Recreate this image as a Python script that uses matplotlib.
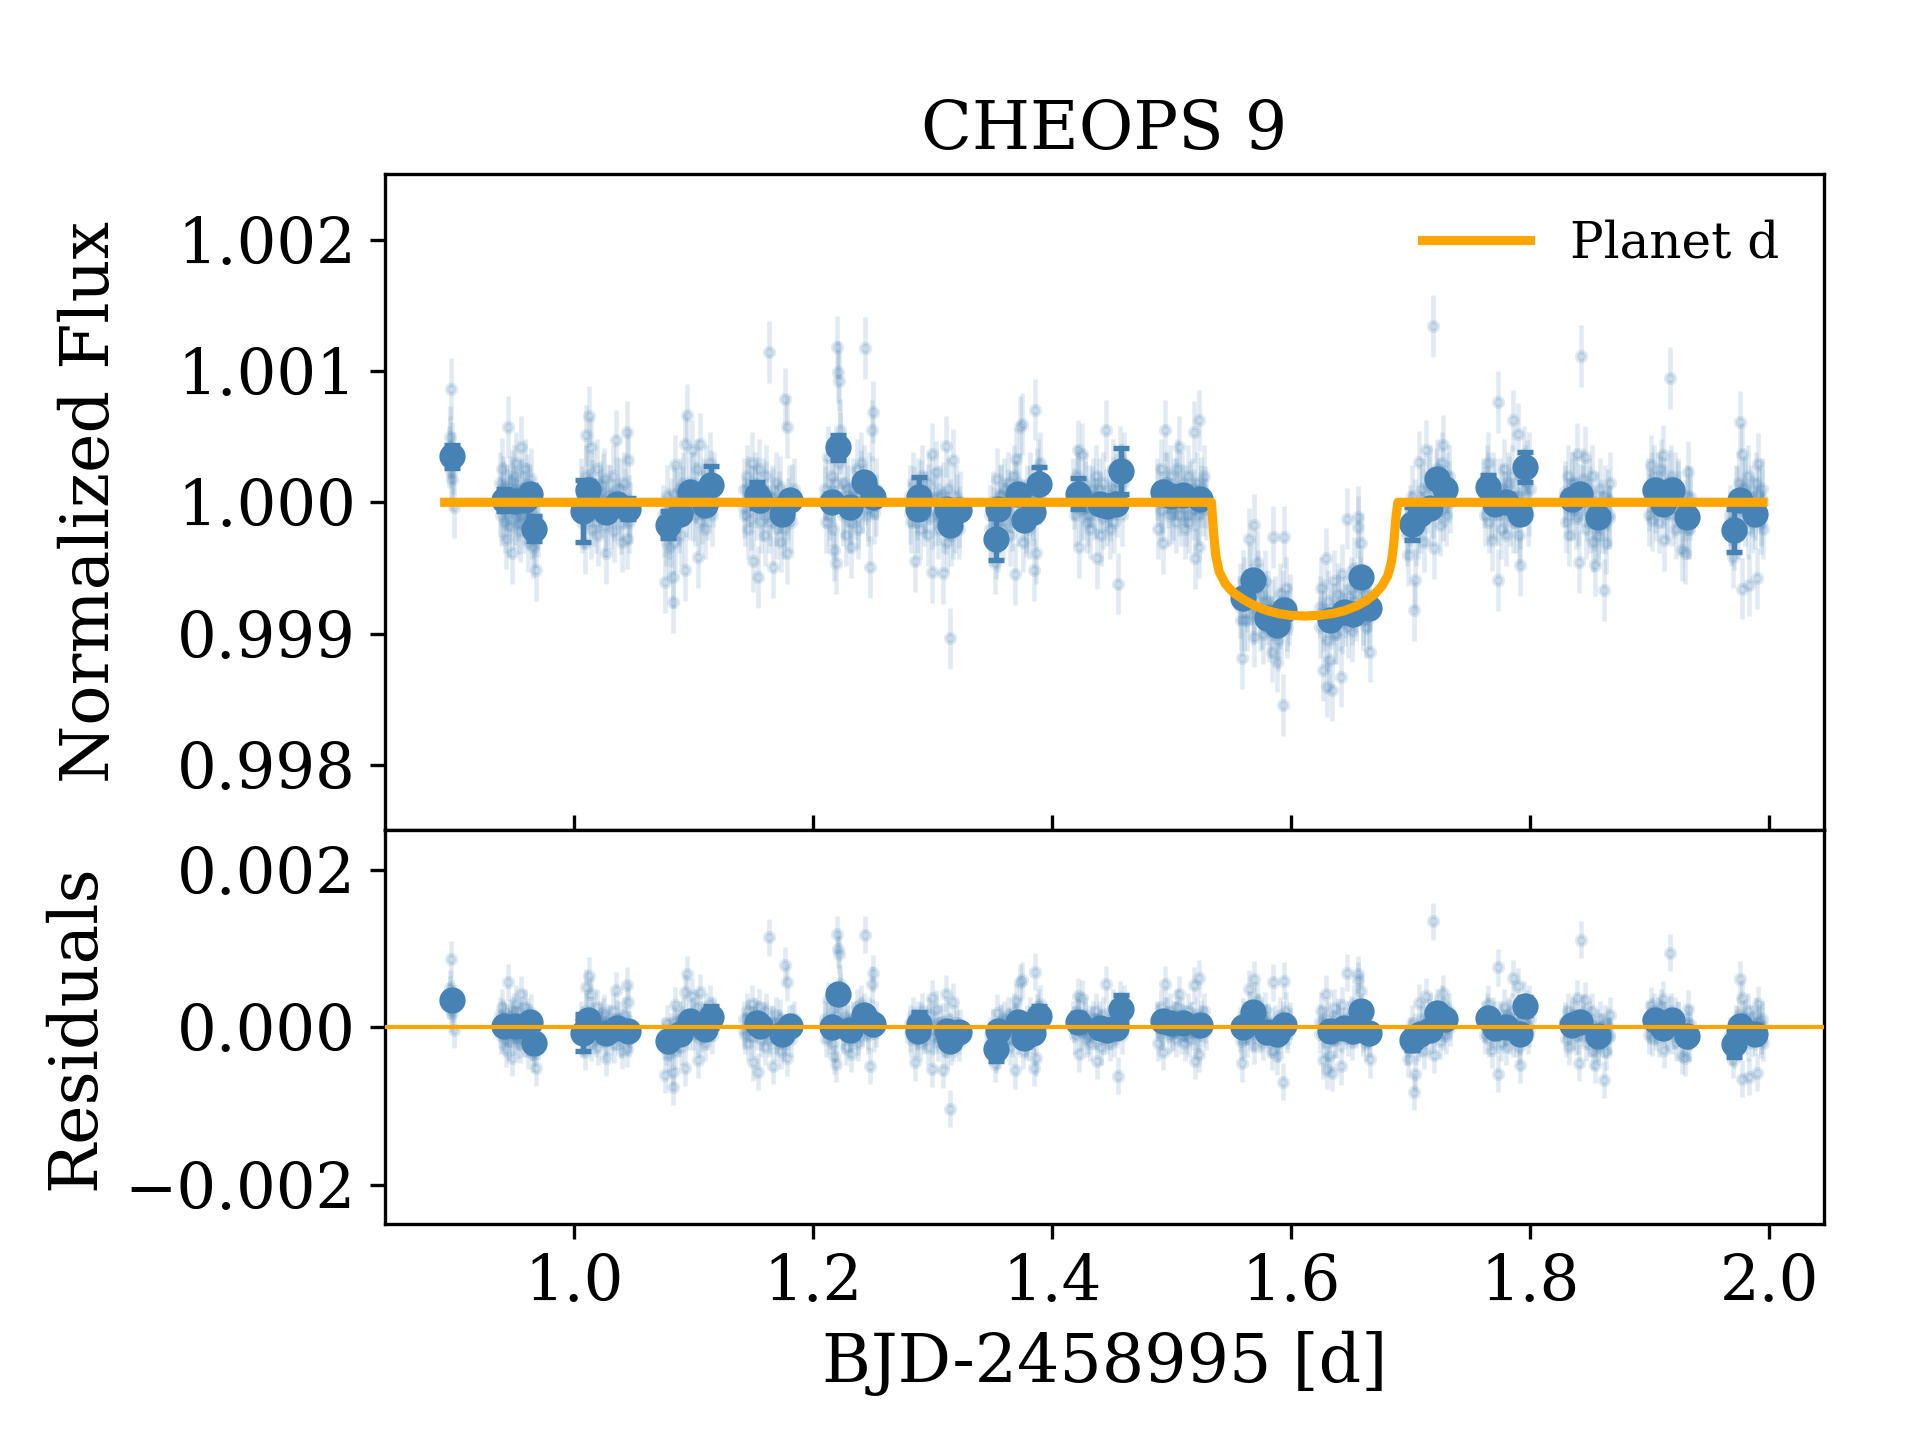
import numpy as np
import matplotlib
matplotlib.use("Agg")
from matplotlib import pyplot as plt

plt.rcParams['font.family'] = 'serif'
plt.rcParams['font.size'] = 14
plt.rcParams['xtick.labelsize'] = 15
plt.rcParams['ytick.labelsize'] = 15

# unbinned CHEOPS points: time [BJD-2458995] and flux offset [ppm]
faint_time = [
    0.8955, 0.8960, 0.8965, 0.8970, 0.8975, 0.8980, 0.8985, 0.8990, 0.9000,
    0.938, 0.939, 0.940, 0.941, 0.942, 0.943, 0.944, 0.945, 0.946, 0.947, 0.948, 0.949, 0.950,
    0.951, 0.952, 0.953, 0.954, 0.955, 0.956, 0.957, 0.958, 0.959, 0.960, 0.961, 0.962, 0.963,
    0.964, 0.965, 0.966, 0.967, 0.968, 0.969, 0.970,
    1.006, 1.007, 1.008, 1.009, 1.010, 1.0106, 1.012, 1.0126, 1.014, 1.0148, 1.016, 1.017,
    1.019, 1.020, 1.022, 1.023, 1.025, 1.026, 1.0273, 1.029, 1.031, 1.033, 1.034, 1.0357,
    1.037, 1.039, 1.040, 1.042, 1.0441, 1.0445, 1.0455, 1.046, 1.047,
    1.075, 1.0762, 1.077, 1.078, 1.0795, 1.080, 1.081, 1.0826, 1.083, 1.0845, 1.085, 1.086,
    1.088, 1.089, 1.090, 1.0915, 1.0929, 1.093, 1.0943, 1.096, 1.0985, 1.100, 1.101, 1.103,
    1.104, 1.1054, 1.107, 1.108, 1.110, 1.111, 1.113, 1.114, 1.116, 1.117,
    1.142, 1.143, 1.145, 1.146, 1.148, 1.1495, 1.1503, 1.152, 1.153, 1.1545, 1.155, 1.157,
    1.158, 1.160, 1.161, 1.163, 1.164, 1.166, 1.167, 1.169, 1.170, 1.172, 1.173, 1.175,
    1.177, 1.178, 1.1785, 1.180, 1.182, 1.184,
    1.210, 1.211, 1.213, 1.214, 1.216, 1.217, 1.218, 1.219, 1.2205, 1.221, 1.2215, 1.222,
    1.223, 1.225, 1.226, 1.228, 1.229, 1.231, 1.232, 1.234, 1.235, 1.237, 1.238, 1.240,
    1.241, 1.243, 1.244, 1.246, 1.247, 1.248, 1.2495, 1.250, 1.251, 1.253,
    1.281, 1.282, 1.284, 1.2855, 1.287, 1.288, 1.290, 1.291, 1.293, 1.294, 1.296, 1.297,
    1.2995, 1.300, 1.302, 1.303, 1.305, 1.306, 1.3085, 1.309, 1.311, 1.312, 1.313, 1.315,
    1.316, 1.3175, 1.319, 1.320, 1.322, 1.323,
    1.348, 1.349, 1.351, 1.352, 1.353, 1.354, 1.356, 1.357, 1.359, 1.360, 1.362, 1.363,
    1.365, 1.366, 1.368, 1.369, 1.370, 1.372, 1.373, 1.375, 1.376, 1.378, 1.379, 1.381,
    1.382, 1.384, 1.385, 1.386, 1.387, 1.388, 1.389, 1.390,
    1.418, 1.419, 1.421, 1.422, 1.423, 1.425, 1.426, 1.428, 1.429, 1.431, 1.432, 1.434,
    1.435, 1.437, 1.438, 1.440, 1.441, 1.443, 1.445, 1.446, 1.448, 1.449, 1.451, 1.452,
    1.454, 1.455, 1.457, 1.458, 1.459, 1.460,
    1.488, 1.489, 1.491, 1.492, 1.493, 1.495, 1.496, 1.498, 1.499, 1.501, 1.502, 1.504,
    1.505, 1.506, 1.508, 1.509, 1.511, 1.512, 1.514, 1.515, 1.517, 1.518, 1.519, 1.5195,
    1.521, 1.522, 1.523, 1.5235, 1.525, 1.527, 1.529,
    1.557, 1.558, 1.559, 1.560, 1.561, 1.563, 1.565, 1.566, 1.568, 1.569, 1.5695, 1.571,
    1.572, 1.574, 1.575, 1.577, 1.578, 1.580, 1.581, 1.583, 1.584, 1.585, 1.587, 1.588,
    1.589, 1.591, 1.592, 1.593, 1.594, 1.596, 1.597, 1.599,
    1.624, 1.625, 1.627, 1.628, 1.629, 1.630, 1.631, 1.632, 1.634, 1.635, 1.636, 1.638,
    1.639, 1.641, 1.642, 1.643, 1.645, 1.647, 1.648, 1.650, 1.651, 1.653, 1.654, 1.656,
    1.6565, 1.658, 1.659, 1.660, 1.662, 1.663, 1.665, 1.666,
    1.697, 1.698, 1.700, 1.701, 1.703, 1.704, 1.705, 1.707, 1.708, 1.710, 1.711, 1.713,
    1.714, 1.716, 1.717, 1.719, 1.720, 1.722, 1.723, 1.725, 1.726, 1.727, 1.729, 1.730,
    1.732, 1.733,
    1.761, 1.762, 1.764, 1.765, 1.766, 1.768, 1.769, 1.771, 1.773, 1.7735, 1.775, 1.776,
    1.778, 1.779, 1.780, 1.782, 1.783, 1.785, 1.786, 1.788, 1.789, 1.790, 1.791, 1.792,
    1.794, 1.795, 1.796, 1.798, 1.799, 1.800,
    1.829, 1.830, 1.832, 1.833, 1.835, 1.836, 1.838, 1.839, 1.840, 1.841, 1.843, 1.844,
    1.846, 1.847, 1.849, 1.850, 1.852, 1.853, 1.854, 1.856, 1.857, 1.859, 1.860, 1.862,
    1.863, 1.864, 1.866, 1.867,
    1.899, 1.900, 1.901, 1.902, 1.904, 1.905, 1.907, 1.908, 1.910, 1.911, 1.912, 1.914,
    1.915, 1.917, 1.918, 1.919, 1.921, 1.922, 1.924, 1.925, 1.927, 1.928, 1.930, 1.931,
    1.932, 1.933, 1.934,
    1.967, 1.968, 1.970, 1.971, 1.972, 1.974, 1.975, 1.976, 1.977, 1.9775, 1.979, 1.980,
    1.982, 1.983, 1.985, 1.986, 1.988, 1.989, 1.990, 1.991, 1.993, 1.994, 1.995,
]
faint_ppm = [
    345, 420, 497, 864, 230, 180, 380, 300, -35,
    150, -100, 256, -50, 80, -276, 20, 573, -180, 120, -390, 40, 200,
    -120, 300, -60, 90, -220, 420, 10, -150, 250, -80, 130, -300, 60,
    180, -200, -340, -260, -517, -120, -180,
    100, -150, -60, -314, 200, 510, 30, 654, -200, 420, 150, -100,
    250, -250, 80, -30, 180, -180, -390, 60, -120, 200, -220, 471,
    -50, 100, -300, 150, 535, -276, 320, -150, -80,
    -100, -606, -250, 50, -340, -200, -50, -568, -758, 281, -300, 0,
    -150, 100, -250, 150, 446, -517, 669, -50, 395, 150, -100, 250,
    -416, 446, -80, 100, -200, 200, 50, 300, -100, 150,
    100, -100, 200, -200, 50, 300, -446, 150, -50, -568, 250, -150,
    100, -250, 200, 1143, -100, 50, -492, 150, -200, 0, -300, -100,
    788, 573, -390, 50, -150, 100,
    100, -150, 345, -50, 200, -200, -365, -466, 1181, 991, 928, 300,
    450, -100, 150, -250, 50, -150, -340, 100, -50, 250, -200, 300,
    0, 200, 1176, -100, 150, -492, 548, 687, -80, 100,
    50, -150, 150, -446, -50, 100, -200, 200, -100, 0, -250, 150,
    370, -530, -100, 231, -200, 50, -542, -150, 426, -300, 100, -1037,
    -250, 320, -150, 50, -200, 0,
    -100, -250, 0, -466, -350, 180, -150, 50, -200, 100, -50, 150,
    -250, 0, 200, -548, 332, -100, 573, 598, -300, -150, 50, -200,
    150, -50, -517, 707, -390, 250, 100, 300,
    100, -100, 200, 395, -340, 370, -50, 150, -150, 50, -200, 100,
    -50, 200, -428, 0, -250, 150, 548, -100, 50, -200, 250, -150,
    100, -619, 350, 200, -100, 300,
    100, -200, 250, 0, -314, 548, 150, -100, 200, -50, 100, -150,
    250, 421, -100, 150, -200, 50, 200, -150, 100, -50, 535, -428,
    150, -100, 624, -340, 50, 200, -50,
    -700, -900, -1189, -600, -897, -750, -276, -550, -850, -175, -1024, -650,
    -454, -900, -700, -1000, -600, -850, -750, -950, -1138, -264, -800, -1214,
    -1050, -700, -950, -1544, -264, -650, -900, -780,
    -800, -650, -1278, -900, -428, -1404, -750, -1202, -1430, -850, -600, -1000,
    -700, -900, -1328, -550, -800, -124, -950, -650, -850, -500, -750, -112,
    -188, -600, -314, -850, -700, -950, -750, -1138,
    -200, -400, -100, 50, -821, -593, -250, 307, -150, 100, -300, 395,
    0, 200, -100, 1346, -352, 250, 100, -175, 300, 433, 50, -100,
    200, 0,
    100, -100, 200, 300, -150, -289, 150, -50, 763, -593, 100, -200,
    250, 0, -251, 150, -100, 200, 624, -150, 50, 522, -250, -479,
    100, 350, 200, -100, 300, 100,
    50, -150, 200, -251, 100, -50, 150, 370, -100, -454, 1113, 50,
    345, -200, 100, -150, 200, -300, -479, 0, -250, 100, -150, -669,
    50, -314, -100, 150,
    100, -100, 281, -137, 200, 0, 150, -150, 250, 357, -289, 100,
    -50, 948, 200, -100, 150, -200, 100, 0, -365, -150, -390, 50,
    231, -200, -50,
    -100, -250, -416, -150, 50, -200, 150, 611, 370, -657, 100, -100,
    200, -631, 50, -150, -50, 150, -580, 294, -100, 100, -200,
]

# more unbinned points near the middle of each orbit
core_time = [
    0.9385, 0.9405, 0.9425, 0.9445, 0.9465, 0.9485, 0.9505, 0.9525, 0.9545, 0.9565,
    0.9585, 0.9605, 0.9625, 0.9645, 0.9665,
    1.0065, 1.0085, 1.0115, 1.0135, 1.0155, 1.0185, 1.0215, 1.0245, 1.0275, 1.0305,
    1.0335, 1.0365, 1.0395, 1.0425, 1.0465,
    1.0755, 1.0785, 1.0815, 1.0835, 1.0875, 1.0905, 1.0935, 1.0965, 1.0995, 1.1025,
    1.1055, 1.1085, 1.1115, 1.1145, 1.1165,
    1.1425, 1.1455, 1.1485, 1.1515, 1.1545, 1.1575, 1.1605, 1.1635, 1.1665, 1.1695,
    1.1725, 1.1755, 1.1795, 1.1825,
    1.2105, 1.2135, 1.2165, 1.2195, 1.2225, 1.2255, 1.2285, 1.2315, 1.2345, 1.2375,
    1.2405, 1.2435, 1.2465, 1.2495, 1.2525,
    1.2815, 1.2845, 1.2875, 1.2905, 1.2935, 1.2965, 1.2995, 1.3025, 1.3055, 1.3085,
    1.3115, 1.3145, 1.3175, 1.3205, 1.3225,
    1.3485, 1.3515, 1.3545, 1.3575, 1.3605, 1.3635, 1.3665, 1.3695, 1.3725, 1.3755,
    1.3785, 1.3815, 1.3845, 1.3875, 1.3895,
    1.4185, 1.4215, 1.4245, 1.4275, 1.4305, 1.4335, 1.4365, 1.4395, 1.4425, 1.4455,
    1.4485, 1.4515, 1.4545, 1.4575, 1.4595,
    1.4885, 1.4915, 1.4945, 1.4975, 1.5005, 1.5035, 1.5065, 1.5095, 1.5125, 1.5155,
    1.5185, 1.5215, 1.5245, 1.5265, 1.5285,
    1.5575, 1.5605, 1.5635, 1.5665, 1.5695, 1.5725, 1.5755, 1.5785, 1.5815, 1.5845,
    1.5875, 1.5905, 1.5935, 1.5965, 1.5985,
    1.6245, 1.6275, 1.6305, 1.6335, 1.6365, 1.6395, 1.6425, 1.6455, 1.6485, 1.6515,
    1.6545, 1.6575, 1.6605, 1.6635, 1.6655,
    1.6975, 1.7005, 1.7035, 1.7065, 1.7095, 1.7125, 1.7155, 1.7185, 1.7215, 1.7245,
    1.7275, 1.7305, 1.7325,
    1.7615, 1.7645, 1.7675, 1.7705, 1.7735, 1.7765, 1.7795, 1.7825, 1.7855, 1.7885,
    1.7915, 1.7945, 1.7975, 1.7995,
    1.8295, 1.8325, 1.8355, 1.8385, 1.8415, 1.8445, 1.8475, 1.8505, 1.8535, 1.8565,
    1.8595, 1.8625, 1.8655, 1.8665,
    1.8995, 1.9025, 1.9055, 1.9085, 1.9115, 1.9145, 1.9175, 1.9205, 1.9235, 1.9265,
    1.9295, 1.9325, 1.9335,
    1.9675, 1.9705, 1.9735, 1.9765, 1.9795, 1.9825, 1.9855, 1.9885, 1.9915, 1.9935,
    1.9945,
]
core_ppm = [
    -30, 120, -150, 60, -20, 160, -90, 30, -160, 100,
    -40, 70, -130, -60, -180,
    40, -120, 160, -40, 90, -150, 20, 140, -100, 50,
    -60, 110, -160, 30, -30,
    -180, -120, -260, 60, -90, 40, -30, 120, -60, 80,
    -140, 20, -50, 160, 50,
    -40, 120, -130, 40, 110, -60, 80, -150, 30, -100,
    120, -200, -50, 60,
    40, -100, 80, 150, 550, -40, 110, -80, 40, -120,
    160, 60, -60, 120, -20,
    -80, 40, -150, 90, -40, 60, -120, 30, -90, 70,
    -160, -60, -200, -20, -110,
    -200, -120, -300, 60, -80, 20, -140, 90, 140, -60,
    -180, 40, -100, 180, 60,
    30, 120, -60, 80, -100, 40, -40, 100, -120, 20,
    -60, 110, -30, 220, 150,
    60, -60, 150, 40, -80, 100, -20, 60, -100, 80,
    20, -60, 110, -20, 40,
    -800, -650, -900, -700, -820, -600, -880, -760, -980, -820,
    -1000, -880, -750, -950, -850,
    -950, -820, -1050, -880, -1000, -780, -920, -860, -720, -980,
    -820, -650, -900, -780, -880,
    -250, -150, -60, -200, 30, -100, 120, -40, 180, 60,
    -60, 150, 80,
    40, 150, -60, 100, -100, 60, -40, 120, -150, 40,
    -120, 180, 240, -20,
    80, -50, 150, -120, 60, 180, -60, 40, -140, -200,
    -60, -160, 20, -120,
    20, 150, -60, 120, 40, -80, 160, -40, 80, -160,
    -60, -200, 40,
    -150, -280, 40, -60, 120, -200, -30, -120, 60, -160,
    20,
]
faint_err_ppm = 235

# binned points
bin_time = [
    0.898, 0.942, 0.951, 0.959, 0.963, 0.967,
    1.008, 1.012, 1.027, 1.036, 1.045,
    1.079, 1.089, 1.097, 1.110, 1.115,
    1.153, 1.156, 1.174, 1.181,
    1.216, 1.221, 1.231, 1.243, 1.250,
    1.288, 1.289, 1.312, 1.315, 1.322,
    1.353, 1.355, 1.372, 1.377, 1.384, 1.389,
    1.422, 1.440, 1.446, 1.454, 1.458,
    1.493, 1.500, 1.510, 1.524,
    1.560, 1.568, 1.580, 1.588, 1.594,
    1.633, 1.644, 1.652, 1.659, 1.665,
    1.701, 1.708, 1.716, 1.722, 1.729,
    1.765, 1.771, 1.780, 1.792, 1.796,
    1.835, 1.842, 1.857,
    1.905, 1.911, 1.919, 1.931,
    1.971, 1.976, 1.988,
]
bin_ppm = [
    350, 15, 10, 15, 60, -200,
    -68, 96, -73, -10, -48,
    -170, -86, 79, -23, 129,
    53, 15, -86, 20,
    3, 421, -35, 155, 40,
    -48, 40, -48, -175, -61,
    -276, -48, 66, -137, -73, 142,
    66, -10, -30, -10, 236,
    79, 50, 53, 28,
    -733, -593, -880, -935, -821,
    -897, -834, -850, -568, -808,
    -162, -86, -40, 180, 104,
    117, -10, 0, -86, 269,
    28, 66, -112,
    91, -10, 91, -112,
    -213, 15, -86,
]
bin_err_ppm = [
    85, 85, 60, 60, 70, 95,
    235, 70, 60, 60, 80,
    100, 60, 60, 60, 145,
    100, 60, 60, 60,
    60, 95, 60, 60, 60,
    60, 150, 60, 60, 60,
    160, 60, 60, 60, 60, 125,
    120, 60, 60, 60, 175,
    60, 60, 60, 60,
    60, 60, 60, 60, 60,
    60, 60, 60, 60, 60,
    125, 60, 60, 60, 60,
    90, 60, 60, 60, 115,
    60, 60, 60,
    60, 60, 60, 60,
    165, 60, 60,
]

# transit model of planet d
model_time = [0.892, 1.5335, 1.535, 1.537, 1.540, 1.545, 1.552, 1.560, 1.570, 1.580,
              1.590, 1.600, 1.612, 1.625, 1.635, 1.645, 1.655, 1.663, 1.670, 1.676,
              1.681, 1.684, 1.686, 1.688, 1.6895, 1.995]
model_ppm = [0, 0, -200, -400, -530, -620, -690, -740, -790, -825,
             -848, -862, -867, -860, -848, -825, -790, -750, -700, -640,
             -560, -460, -320, -100, 0, 0]

t = np.array(faint_time + core_time)
f = 1 + np.array(faint_ppm + core_ppm) * 1e-6
tb = np.array(bin_time)
fb = 1 + np.array(bin_ppm) * 1e-6
eb = np.array(bin_err_ppm) * 1e-6
mt = np.array(model_time)
mf = 1 + np.array(model_ppm) * 1e-6

res = f - np.interp(t, mt, mf)
res_b = fb - np.interp(tb, mt, mf)

col = 'steelblue'
fig = plt.figure(figsize=(6.4, 4.8), dpi=300)
gs = fig.add_gridspec(2, 1, height_ratios=[5, 3], hspace=0,
                      left=0.2005, right=0.95, top=0.879, bottom=0.15)
ax1 = fig.add_subplot(gs[0])
ax2 = fig.add_subplot(gs[1], sharex=ax1)

ax1.errorbar(t, f, yerr=faint_err_ppm * 1e-6, fmt='o', color=col, ms=2.2,
             elinewidth=1.1, alpha=0.16, zorder=1)
ax1.errorbar(tb, fb, yerr=eb, fmt='o', color=col, ms=5.3, elinewidth=1.3,
             capsize=2, capthick=1.3, zorder=2)
ax1.plot(mt, mf, color='orange', lw=2.2, label='Planet d', zorder=3)
ax1.set_ylim(0.9975, 1.0025)
ax1.set_yticks([0.998, 0.999, 1.000, 1.001, 1.002])
ax1.set_ylabel('Normalized Flux', fontsize=16, labelpad=13)
ax1.set_title('CHEOPS 9', fontsize=16)
ax1.tick_params(axis='x', direction='in', labelbottom=False)
ax1.legend(loc='upper right', frameon=False, fontsize=12, handlelength=2.15)

ax2.errorbar(t, res, yerr=faint_err_ppm * 1e-6, fmt='o', color=col, ms=2.2,
             elinewidth=1.1, alpha=0.16, zorder=1)
ax2.errorbar(tb, res_b, yerr=eb, fmt='o', color=col, ms=5.3, elinewidth=1.3,
             capsize=2, capthick=1.3, zorder=2)
ax2.axhline(0, color='orange', lw=1, zorder=3)
ax2.set_ylim(-0.0025, 0.0025)
ax2.set_yticks([-0.002, 0.0, 0.002])
ax2.set_ylabel('Residuals', fontsize=16)
ax2.set_xlabel('BJD-2458995 [d]', fontsize=16)
ax2.set_xlim(0.842, 2.046)
ax2.set_xticks([1.0, 1.2, 1.4, 1.6, 1.8, 2.0])

fig.savefig('out.png', dpi=300)
